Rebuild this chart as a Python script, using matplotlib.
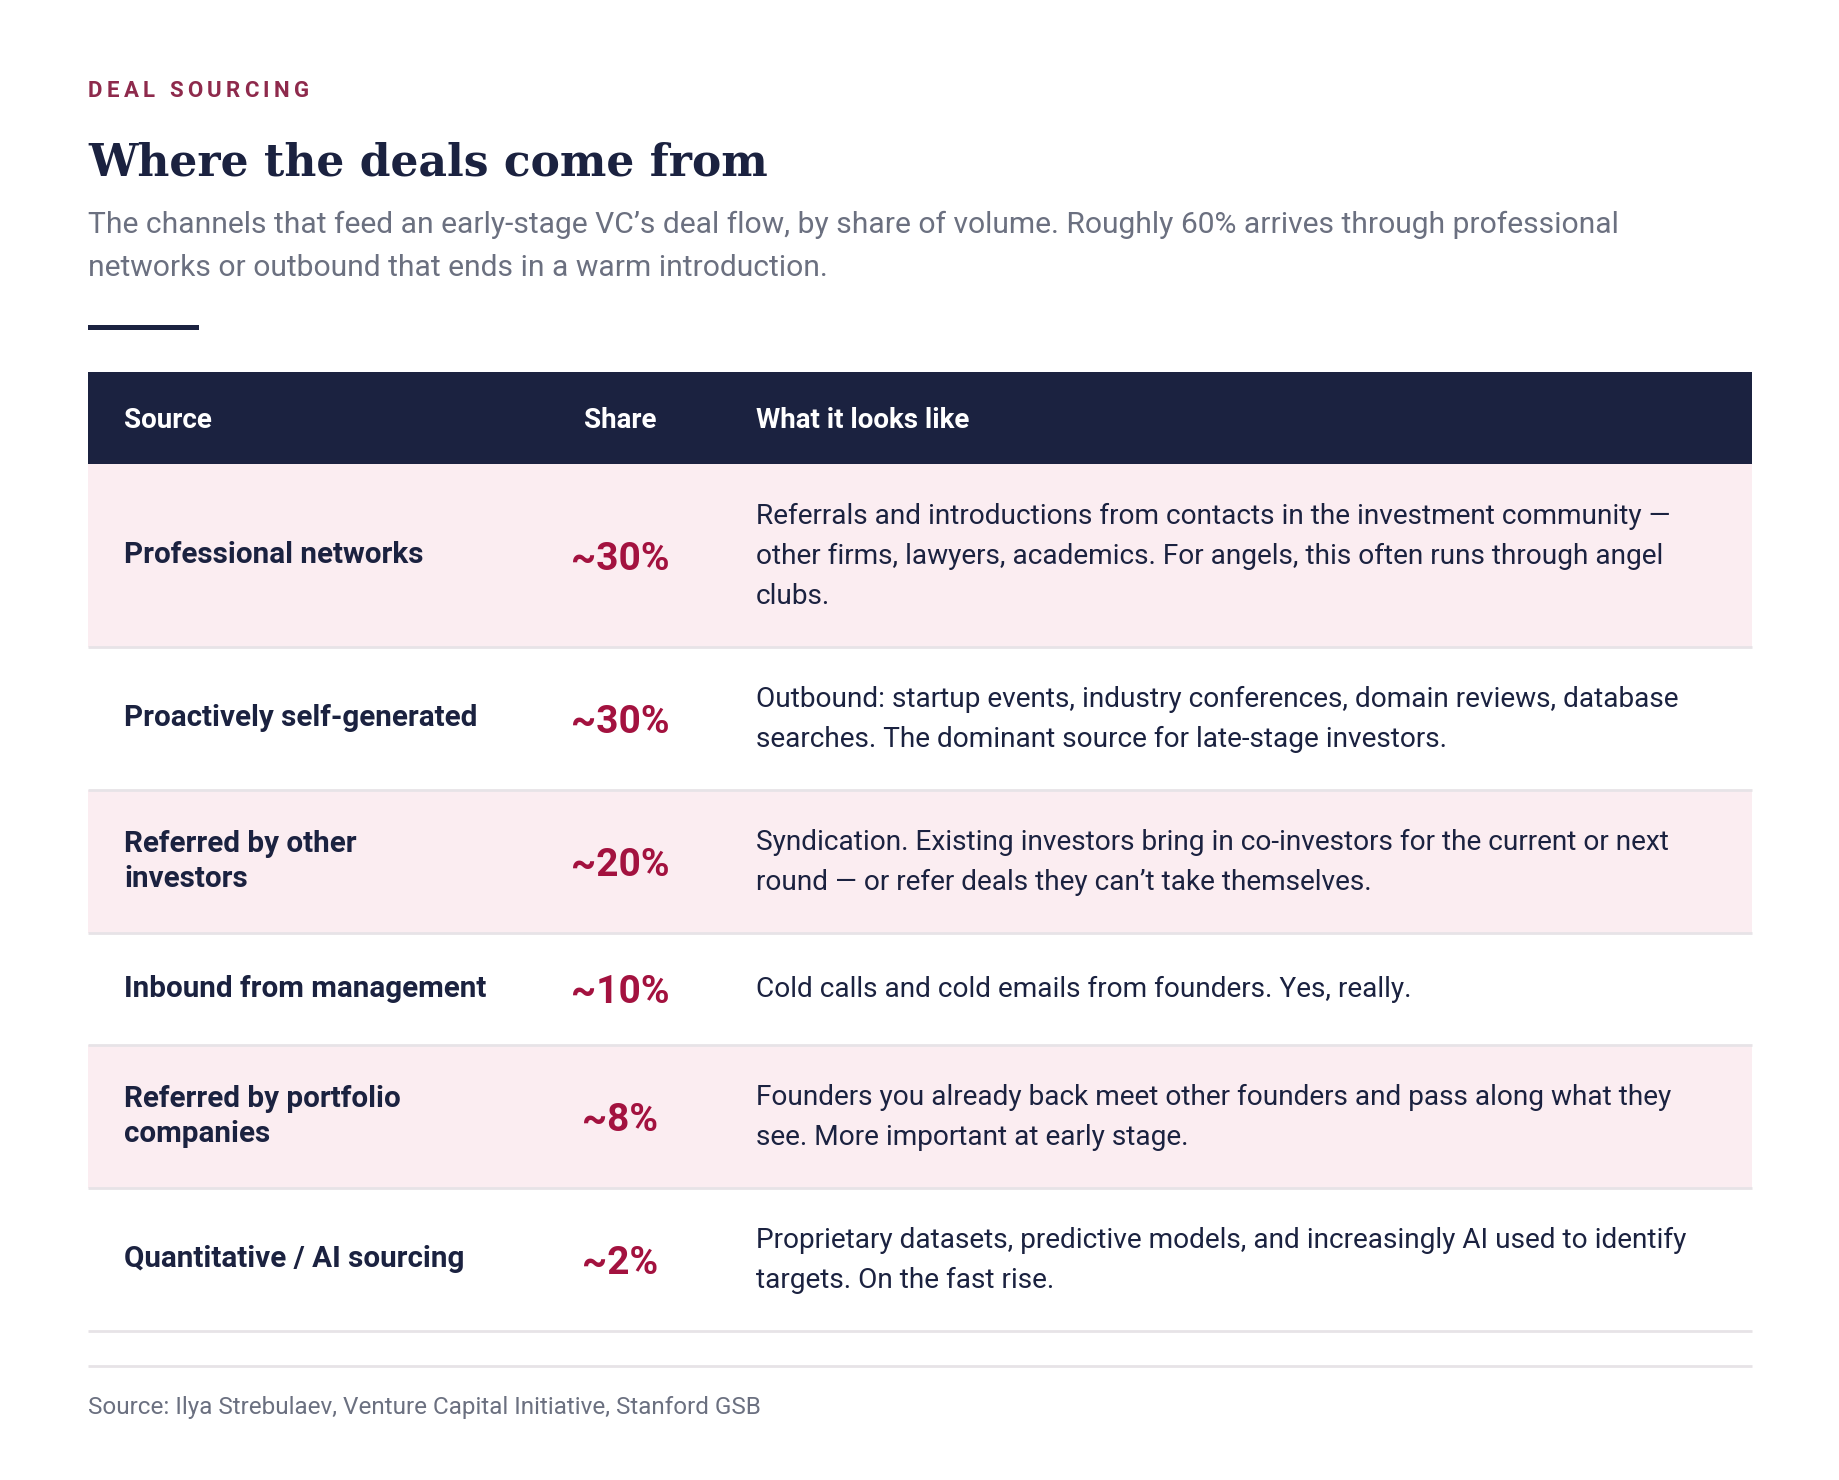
import matplotlib
matplotlib.use("Agg")
import matplotlib.pyplot as plt
from matplotlib.patches import Rectangle

# ---------------- data ----------------
eyebrow = "DEAL SOURCING"
title = "Where the deals come from"
subtitle = ["The channels that feed an early-stage VC\u2019s deal flow, by share of volume. Roughly 60% arrives through professional",
            "networks or outbound that ends in a warm introduction."]
headers = ["Source", "Share", "What it looks like"]

sources = [["Professional networks"],
           ["Proactively self-generated"],
           ["Referred by other", "investors"],
           ["Inbound from management"],
           ["Referred by portfolio", "companies"],
           ["Quantitative / AI sourcing"]]
shares = ["~30%", "~30%", "~20%", "~10%", "~8%", "~2%"]
details = [["Referrals and introductions from contacts in the investment community \u2014",
            "other firms, lawyers, academics. For angels, this often runs through angel",
            "clubs."],
           ["Outbound: startup events, industry conferences, domain reviews, database",
            "searches. The dominant source for late-stage investors."],
           ["Syndication. Existing investors bring in co-investors for the current or next",
            "round \u2014 or refer deals they can\u2019t take themselves."],
           ["Cold calls and cold emails from founders. Yes, really."],
           ["Founders you already back meet other founders and pass along what they",
            "see. More important at early stage."],
           ["Proprietary datasets, predictive models, and increasingly AI used to identify",
            "targets. On the fast rise."]]
footnote = "Source: Ilya Strebulaev, Venture Capital Initiative, Stanford GSB"

# ---------------- style ----------------
NAVY = "#1b2240"
PINK = "#fbedf1"
CRIMSON = "#a3123f"
EYEBROW = "#8e2a4c"
GREY = "#6b7080"
RULE = "#e7e3e7"
SANS = ["Roboto", "DejaVu Sans"]

W, H = 1840, 1480
fig = plt.figure(figsize=(W / 100, H / 100), dpi=100)
ax = fig.add_axes([0, 0, 1, 1])
ax.set_xlim(0, W)
ax.set_ylim(H, 0)
ax.axis("off")

def em(size):
    return size * 100 / 72

def put(x, ycenter, s, size, **kw):
    # place text so that its cap height is centred on ycenter
    ax.text(x, ycenter + 0.355 * em(size), s, fontsize=size, va="baseline", **kw)

left, right = 88, 1752
col_src, col_share, col_desc = 124, 620, 756

# eyebrow with letter spacing
r = fig.canvas.get_renderer()
x = left
for ch in eyebrow:
    t = ax.text(x, 89 + 0.355 * em(16), ch, fontsize=16, family=SANS,
                weight="bold", color=EYEBROW, va="baseline")
    w = t.get_window_extent(r).width if ch != " " else em(16) * 0.25
    x += w + 4.3

# title
ax.text(left, 176, title, fontsize=31.7, family=["DejaVu Serif"], weight="bold",
        color=NAVY, va="baseline")

# subtitle
for i, line in enumerate(subtitle):
    put(left, 222 + 43 * i, line, 21.6, family=SANS, color=GREY)

# short accent rule
ax.add_patch(Rectangle((left, 324.5), 111, 5, color=NAVY, lw=0))

# header band
top, head_h = 372, 91.5
ax.add_patch(Rectangle((left, top), right - left, head_h, color=NAVY, lw=0))
hy = top + head_h / 2
put(col_src, hy, headers[0], 20, family=SANS, weight="bold", color="white")
put(col_share, hy, headers[1], 20, family=SANS, weight="bold", color="white", ha="center")
put(col_desc, hy, headers[2], 20, family=SANS, weight="bold", color="white")

# body rows
line_h, src_h, pad, min_h = 40, 35, 63, 49
y = top + head_h
for i, (src, sh, det) in enumerate(zip(sources, shares, details)):
    h = pad + max(len(det) * line_h, min_h)
    if i % 2 == 0:
        ax.add_patch(Rectangle((left, y), right - left, h, color=PINK, lw=0))
    ax.plot([left, right], [y + h, y + h], color=RULE, lw=2, solid_capstyle="butt")
    cy = y + h / 2
    for j, s in enumerate(src):
        put(col_src, cy - 2.5 + (j - (len(src) - 1) / 2) * src_h, s, 21.3, family=SANS,
            weight="bold", color=NAVY)
    put(col_share, cy + 1, sh, 28, family=SANS, weight="bold", color=CRIMSON, ha="center")
    for j, s in enumerate(det):
        put(col_desc, cy - 1 + (j - (len(det) - 1) / 2) * line_h, s, 20.2, family=SANS,
            color=NAVY)
    y += h

# footer
ax.plot([left, right], [1366, 1366], color=RULE, lw=2, solid_capstyle="butt")
put(left, 1405, footnote, 17.5, family=SANS, color=GREY)

fig.savefig("out.png", dpi=100, facecolor="white")
